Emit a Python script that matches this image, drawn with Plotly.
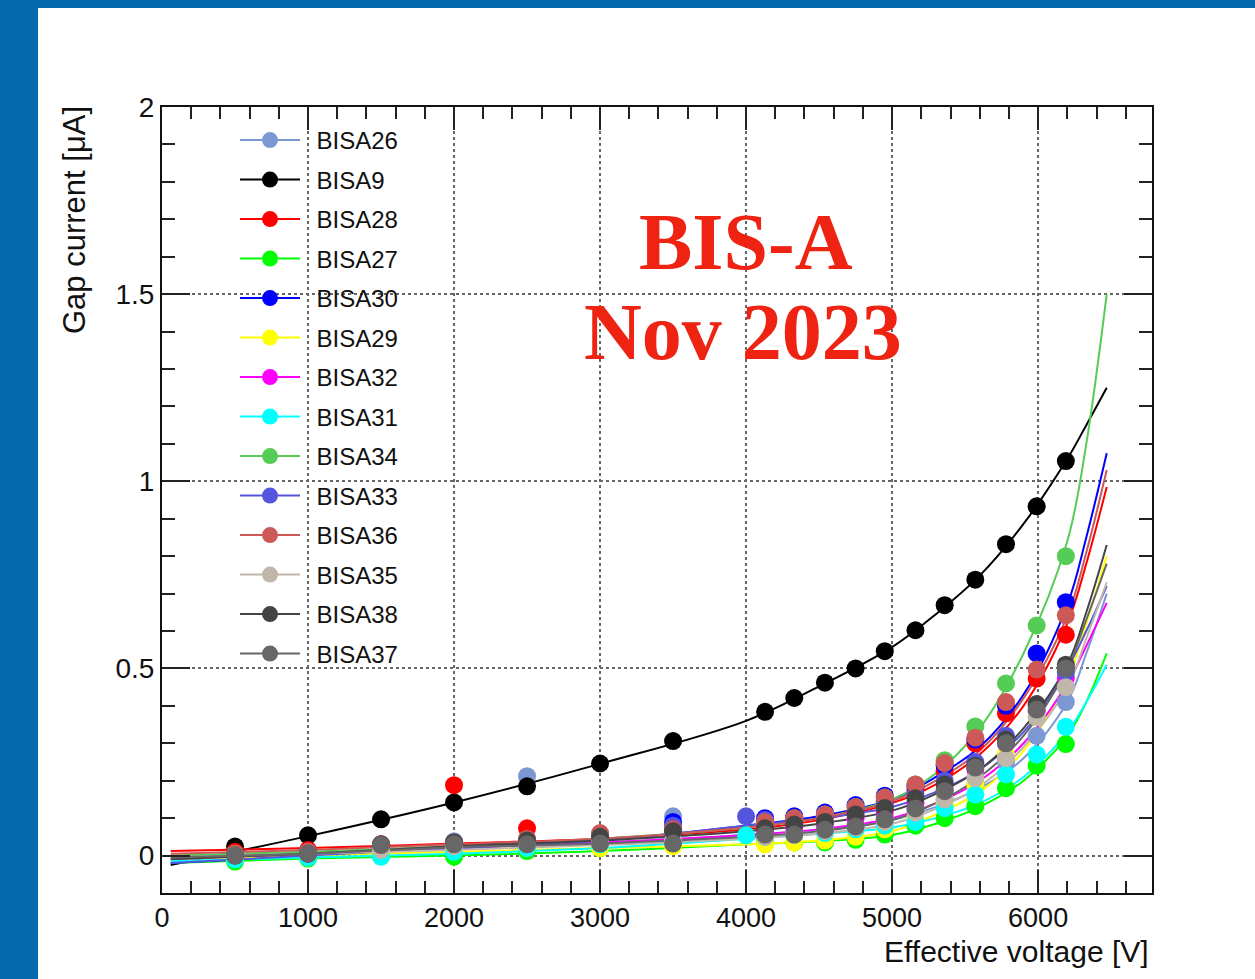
import plotly.graph_objects as go

# ---- measured gap currents (uA) vs effective voltage (V) ----
V_LOW = [500, 1000, 1500, 2000, 2500, 3000, 3500]
V_HIGH = [4130, 4330, 4540, 4750, 4950, 5160, 5360, 5570, 5780, 5990, 6190]
V_STD = V_LOW + V_HIGH
V_EXT = V_LOW + [4000] + V_HIGH

BISA26 = [0.0, 0.005, 0.025, 0.038, 0.212, 0.045, 0.105,
          0.06, 0.065, 0.075, 0.085, 0.10, 0.12, 0.15, 0.19, 0.25, 0.32, 0.41]
BISA9 = [0.024, 0.054, 0.097, 0.142, 0.185, 0.246, 0.306,
         0.384, 0.421, 0.462, 0.500, 0.546, 0.602, 0.669, 0.737, 0.832, 0.933, 1.054]
BISA28 = [0.01, 0.015, 0.03, 0.188, 0.073, 0.055, 0.07,
          0.085, 0.095, 0.105, 0.12, 0.145, 0.175, 0.225, 0.30, 0.38, 0.473, 0.59]
BISA27 = [-0.016, -0.008, -0.002, -0.003, 0.012, 0.02, 0.028,
          0.035, 0.035, 0.035, 0.042, 0.056, 0.08, 0.10, 0.132, 0.18, 0.24, 0.298]
BISA30 = [0.0, 0.01, 0.025, 0.03, 0.04, 0.05, 0.09,
          0.10, 0.105, 0.115, 0.135, 0.16, 0.185, 0.24, 0.31, 0.40, 0.54, 0.677]
BISA29 = [-0.008, 0.0, 0.01, 0.015, 0.02, 0.02, 0.025,
          0.03, 0.035, 0.04, 0.05, 0.07, 0.10, 0.14, 0.19, 0.27, 0.37, 0.48]
BISA32 = [0.0, 0.01, 0.02, 0.03, 0.035, 0.045, 0.06,
          0.07, 0.075, 0.085, 0.10, 0.115, 0.14, 0.175, 0.23, 0.30, 0.385, 0.475]
BISA31 = [-0.01, -0.005, -0.003, 0.01, 0.02, 0.03, 0.035, 0.054,
          0.05, 0.055, 0.06, 0.07, 0.08, 0.09, 0.127, 0.163, 0.217, 0.27, 0.344]
BISA34 = [0.005, 0.01, 0.025, 0.03, 0.04, 0.05, 0.065,
          0.09, 0.10, 0.11, 0.13, 0.155, 0.19, 0.255, 0.345, 0.46, 0.615, 0.80]
BISA33 = [0.0, 0.005, 0.02, 0.03, 0.04, 0.05, 0.08, 0.105,
          0.095, 0.10, 0.105, 0.12, 0.14, 0.165, 0.20, 0.25, 0.32, 0.40, 0.49]
BISA36 = [0.005, 0.01, 0.03, 0.035, 0.045, 0.06, 0.07,
          0.09, 0.10, 0.11, 0.13, 0.155, 0.19, 0.247, 0.315, 0.41, 0.497, 0.642]
BISA35 = [0.0, 0.005, 0.015, 0.025, 0.03, 0.035, 0.04,
          0.05, 0.055, 0.065, 0.075, 0.09, 0.115, 0.15, 0.207, 0.26, 0.37, 0.45]
BISA38 = [0.0, 0.005, 0.03, 0.035, 0.04, 0.05, 0.065,
          0.073, 0.083, 0.09, 0.11, 0.127, 0.153, 0.19, 0.24, 0.31, 0.405, 0.51]
BISA37 = [0.0, 0.005, 0.028, 0.03, 0.03, 0.032, 0.032,
          0.056, 0.056, 0.069, 0.078, 0.097, 0.126, 0.172, 0.235, 0.30, 0.39, 0.50]

# ---- fitted curves, sampled along the voltage axis ----
FIT_V = [60, 1000, 2000, 3000, 4000, 4500, 5000, 5300, 5600, 5900, 6200, 6330, 6470]
FIT26 = [-0.005, 0.008, 0.02, 0.035, 0.055, 0.07, 0.095, 0.13, 0.18, 0.26, 0.41, 0.54, 0.70]
FIT9 = [-0.025, 0.052, 0.142, 0.245, 0.36, 0.452, 0.557, 0.645, 0.748, 0.886, 1.06, 1.15, 1.25]
FIT28 = [0.012, 0.02, 0.032, 0.045, 0.07, 0.095, 0.14, 0.19, 0.27, 0.40, 0.62, 0.78, 0.985]
FIT27 = [-0.02, -0.008, 0.0, 0.012, 0.03, 0.038, 0.055, 0.085, 0.13, 0.20, 0.32, 0.41, 0.54]
FIT30 = [-0.02, 0.0, 0.02, 0.04, 0.08, 0.105, 0.15, 0.21, 0.29, 0.43, 0.67, 0.85, 1.075]
FIT29 = [-0.01, 0.0, 0.01, 0.02, 0.03, 0.04, 0.065, 0.11, 0.17, 0.28, 0.47, 0.62, 0.80]
FIT32 = [-0.01, 0.005, 0.02, 0.035, 0.055, 0.07, 0.10, 0.14, 0.20, 0.30, 0.46, 0.56, 0.675]
FIT31 = [-0.015, -0.005, 0.005, 0.02, 0.045, 0.058, 0.075, 0.10, 0.14, 0.21, 0.33, 0.41, 0.51]
FIT34 = [0.0, 0.01, 0.025, 0.045, 0.075, 0.10, 0.15, 0.22, 0.34, 0.54, 0.84, 1.10, 1.50]
FIT33 = [-0.02, 0.0, 0.02, 0.04, 0.08, 0.10, 0.13, 0.17, 0.23, 0.33, 0.50, 0.60, 0.72]
FIT36 = [0.005, 0.015, 0.03, 0.045, 0.075, 0.10, 0.145, 0.20, 0.28, 0.42, 0.64, 0.81, 1.03]
FIT35 = [-0.005, 0.005, 0.015, 0.028, 0.045, 0.058, 0.085, 0.125, 0.185, 0.29, 0.45, 0.58, 0.73]
FIT38 = [-0.01, 0.005, 0.025, 0.04, 0.065, 0.085, 0.12, 0.165, 0.23, 0.34, 0.51, 0.65, 0.83]
FIT37 = [-0.005, 0.005, 0.022, 0.032, 0.05, 0.065, 0.095, 0.14, 0.21, 0.32, 0.50, 0.63, 0.78]

CHAMBERS = [
    ("BISA26", V_STD, BISA26, FIT26, "#7b98d2"),
    ("BISA9", V_STD, BISA9, FIT9, "#000000"),
    ("BISA28", V_STD, BISA28, FIT28, "#ff0000"),
    ("BISA27", V_STD, BISA27, FIT27, "#00ff00"),
    ("BISA30", V_STD, BISA30, FIT30, "#0000ff"),
    ("BISA29", V_STD, BISA29, FIT29, "#ffff00"),
    ("BISA32", V_STD, BISA32, FIT32, "#ff00ff"),
    ("BISA31", V_EXT, BISA31, FIT31, "#00ffff"),
    ("BISA34", V_STD, BISA34, FIT34, "#55cc55"),
    ("BISA33", V_EXT, BISA33, FIT33, "#5555dd"),
    ("BISA36", V_STD, BISA36, FIT36, "#cc5858"),
    ("BISA35", V_STD, BISA35, FIT35, "#c0b6aa"),
    ("BISA38", V_STD, BISA38, FIT38, "#444444"),
    ("BISA37", V_STD, BISA37, FIT37, "#676767"),
]

# ---- canvas geometry ----
W, H = 1255, 979
L, R, T, B = 162, 1152, 107, 893
BLUE = "#0569ae"
LABEL_PAD = "\u00a0\u2009"  # small gap between legend symbol and label


def px_x(p):
    return (p - L) / (R - L)


def px_y(p):
    return (B - p) / (B - T)


def isolated(seq):
    """Insert gaps so the legend keeps its line while points stay unconnected."""
    out = []
    for v in seq:
        out += [v, None]
    return out


fig = go.Figure()

for name, volts, cur, fit, col in CHAMBERS:
    fig.add_trace(go.Scatter(
        x=FIT_V, y=fit, mode="lines", line=dict(color=col, width=2, shape="spline"),
        legendgroup=name, showlegend=False, hoverinfo="skip"))
for name, volts, cur, fit, col in CHAMBERS:
    fig.add_trace(go.Scatter(
        x=isolated(volts), y=isolated(cur), mode="lines+markers", name=LABEL_PAD + name,
        legendgroup=name, connectgaps=False,
        line=dict(color=col, width=2),
        marker=dict(color=col, size=18, line=dict(width=0))))

FONT = "Liberation Sans, Arial, sans-serif"

axis_common = dict(
    showline=True, linecolor="#111111", linewidth=2, mirror="allticks",
    ticks="inside", tickcolor="#222222", tickwidth=2,
    showgrid=True, gridcolor="#666666", gridwidth=1.5, griddash="dot",
    zeroline=False,
)

fig.update_xaxes(
    range=[0, 6780], tick0=0, dtick=1000, ticklen=23,
    tickfont=dict(family=FONT, size=27, color="#111111"),
    minor=dict(dtick=200, ticks="inside", ticklen=12, tickwidth=2, tickcolor="#222222", showgrid=False),
    **axis_common)
fig.update_yaxes(
    range=[-0.1, 2.0], tick0=0, dtick=0.5, ticklen=28,
    tickfont=dict(family=FONT, size=28, color="#111111"),
    minor=dict(dtick=0.1, ticks="inside", ticklen=13, tickwidth=2, tickcolor="#222222", showgrid=False),
    **axis_common)

shapes = [
    dict(type="rect", xref="paper", yref="paper", x0=px_x(0), x1=px_x(38), y0=px_y(H), y1=px_y(0),
         fillcolor=BLUE, line=dict(width=0), layer="below"),
    dict(type="rect", xref="paper", yref="paper", x0=px_x(0), x1=px_x(W), y0=px_y(8), y1=px_y(0),
         fillcolor=BLUE, line=dict(width=0), layer="below"),
]

SERIF = "Liberation Serif, Times New Roman, serif"
annotations = [
    dict(text="<b>BIS-A</b>", xref="paper", yref="paper", x=px_x(746), y=px_y(242),
         xanchor="center", yanchor="middle", showarrow=False,
         font=dict(family=SERIF, size=80, color="#ee2312")),
    dict(text="<b>Nov 2023</b>", xref="paper", yref="paper", x=px_x(743), y=px_y(332),
         xanchor="center", yanchor="middle", showarrow=False,
         font=dict(family=SERIF, size=80, color="#ee2312")),
    dict(text="Effective voltage [V]", xref="paper", yref="paper", x=px_x(1151), y=px_y(951),
         xanchor="right", yanchor="middle", showarrow=False,
         font=dict(family=FONT, size=30, color="#111111")),
    dict(text="Gap current [\u03bcA]", xref="paper", yref="paper", x=px_x(74), y=px_y(104),
         xanchor="center", yanchor="top", textangle=-90, showarrow=False,
         font=dict(family=FONT, size=31, color="#111111")),
]

fig.update_layout(
    width=W, height=H,
    margin=dict(l=L, r=W - R, t=T, b=H - B, pad=0),
    paper_bgcolor="white", plot_bgcolor="white",
    showlegend=True,
    legend=dict(x=px_x(235), y=px_y(118), xanchor="left", yanchor="top",
                bgcolor="rgba(0,0,0,0)", borderwidth=0, itemwidth=60,
                tracegroupgap=5.3, font=dict(family=FONT, size=24, color="#111111")),
    shapes=shapes, annotations=annotations,
)

fig.write_html("out.html")
